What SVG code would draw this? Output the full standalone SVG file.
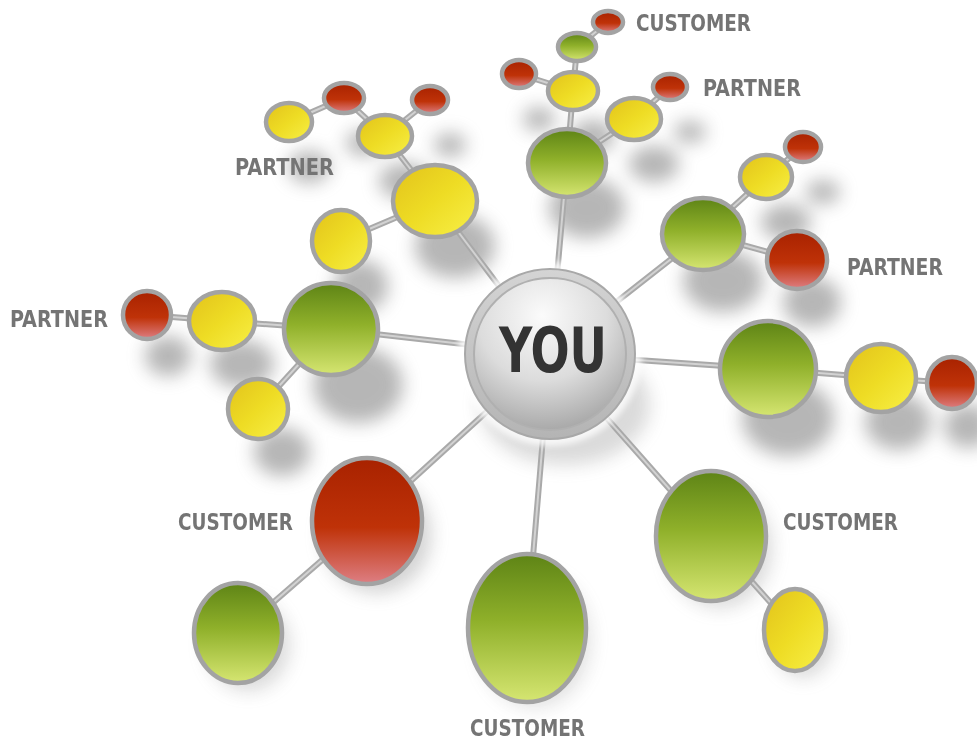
<svg xmlns="http://www.w3.org/2000/svg" width="977" height="743" viewBox="0 0 977 743">
<defs>
<linearGradient id="gGreen" x1="0" y1="0" x2="0" y2="1">
<stop offset="0" stop-color="#5e8416"/><stop offset="0.45" stop-color="#8fb02a"/><stop offset="1" stop-color="#d6e672"/>
</linearGradient>
<linearGradient id="gYellow" x1="0" y1="0" x2="1" y2="1">
<stop offset="0" stop-color="#e2c21c"/><stop offset="0.5" stop-color="#eedc24"/><stop offset="1" stop-color="#f8f048"/>
</linearGradient>
<linearGradient id="gRed" x1="0" y1="0" x2="0" y2="1">
<stop offset="0" stop-color="#a82200"/><stop offset="0.55" stop-color="#bf3208"/><stop offset="1" stop-color="#de7f84"/>
</linearGradient>
<radialGradient id="gYou" cx="0.45" cy="0.25" r="0.85">
<stop offset="0" stop-color="#fbfbfb"/><stop offset="0.5" stop-color="#dcdcdc"/><stop offset="1" stop-color="#9a9a9a"/>
</radialGradient>
<linearGradient id="gRing" x1="0" y1="0" x2="0" y2="1">
<stop offset="0" stop-color="#d4d4d4"/><stop offset="1" stop-color="#b4b4b4"/>
</linearGradient>
<filter id="blur" x="-50%" y="-50%" width="200%" height="200%"><feGaussianBlur stdDeviation="9"/></filter>
<filter id="blurS" x="-50%" y="-50%" width="200%" height="200%"><feGaussianBlur stdDeviation="3"/></filter>
</defs>
<style>
.node ellipse{stroke:#a3a3a3;stroke-width:4.5}
.green ellipse{fill:url(#gGreen)}
.yellow ellipse{fill:url(#gYellow)}
.red ellipse{fill:url(#gRed)}
.conn line{stroke:#a9a9a9;stroke-width:6;stroke-linecap:round}
.hl line{stroke:#d2d2d2;stroke-width:2}
.lbl{font-family:"DejaVu Sans Condensed","DejaVu Sans",sans-serif;font-weight:bold;font-size:23px;fill:#747474}
.sh ellipse{fill:#7a7a7a}
</style>
<rect width="977" height="743" fill="#ffffff"/>
<g id="shadows" class="sh" filter="url(#blur)" opacity="0.55">
<ellipse cx="565" cy="405" rx="85" ry="60" opacity="0.5"/>
<ellipse cx="587" cy="208" rx="38" ry="30"/>
<ellipse cx="593" cy="136" rx="22" ry="16"/>
<ellipse cx="654" cy="164" rx="25" ry="18"/>
<ellipse cx="690" cy="132" rx="16" ry="11"/>
<ellipse cx="539" cy="119" rx="16" ry="12"/>
<ellipse cx="455" cy="246" rx="40" ry="32"/>
<ellipse cx="361" cy="286" rx="27" ry="26"/>
<ellipse cx="405" cy="181" rx="26" ry="18"/>
<ellipse cx="450" cy="145" rx="16" ry="12"/>
<ellipse cx="364" cy="143" rx="18" ry="13"/>
<ellipse cx="309" cy="167" rx="21" ry="16"/>
<ellipse cx="358" cy="385" rx="45" ry="38"/>
<ellipse cx="242" cy="364" rx="32" ry="24"/>
<ellipse cx="168" cy="356" rx="23" ry="20"/>
<ellipse cx="282" cy="452" rx="28" ry="24"/>
<ellipse cx="723" cy="281" rx="40" ry="31"/>
<ellipse cx="786" cy="222" rx="25" ry="18"/>
<ellipse cx="823" cy="192" rx="17" ry="12"/>
<ellipse cx="812" cy="302" rx="29" ry="25"/>
<ellipse cx="788" cy="418" rx="46" ry="38"/>
<ellipse cx="898" cy="422" rx="33" ry="28"/>
<ellipse cx="968" cy="426" rx="24" ry="22"/>
<ellipse cx="377" cy="535" rx="54" ry="58" opacity="0.6"/>
<ellipse cx="248" cy="645" rx="42" ry="46" opacity="0.5"/>
<ellipse cx="535" cy="640" rx="56" ry="68" opacity="0.4"/>
<ellipse cx="720" cy="548" rx="52" ry="60" opacity="0.5"/>
<ellipse cx="803" cy="640" rx="30" ry="38" opacity="0.5"/>
</g>
<g id="connectors">
<g class="conn">
<line x1="550" y1="354" x2="567" y2="163"/>
<line x1="567" y1="163" x2="573" y2="91"/>
<line x1="573" y1="91" x2="577" y2="47"/>
<line x1="577" y1="47" x2="608" y2="22"/>
<line x1="573" y1="91" x2="519" y2="74"/>
<line x1="567" y1="163" x2="634" y2="119"/>
<line x1="634" y1="119" x2="670" y2="87"/>
<line x1="550" y1="354" x2="435" y2="201"/>
<line x1="435" y1="201" x2="341" y2="241"/>
<line x1="435" y1="201" x2="385" y2="136"/>
<line x1="385" y1="136" x2="344" y2="98"/>
<line x1="385" y1="136" x2="430" y2="100"/>
<line x1="344" y1="98" x2="289" y2="122"/>
<line x1="550" y1="354" x2="331" y2="329"/>
<line x1="331" y1="329" x2="222" y2="321"/>
<line x1="222" y1="321" x2="147" y2="315"/>
<line x1="331" y1="329" x2="258" y2="409"/>
<line x1="550" y1="354" x2="703" y2="234"/>
<line x1="703" y1="234" x2="766" y2="177"/>
<line x1="766" y1="177" x2="803" y2="147"/>
<line x1="703" y1="234" x2="797" y2="260"/>
<line x1="550" y1="354" x2="768" y2="369"/>
<line x1="768" y1="369" x2="881" y2="378"/>
<line x1="881" y1="378" x2="952" y2="383"/>
<line x1="550" y1="354" x2="367" y2="521"/>
<line x1="367" y1="521" x2="238" y2="633"/>
<line x1="550" y1="354" x2="527" y2="628"/>
<line x1="550" y1="354" x2="711" y2="536"/>
<line x1="711" y1="536" x2="795" y2="630"/>
</g>
<g class="hl">
<line x1="550" y1="354" x2="567" y2="163"/>
<line x1="567" y1="163" x2="573" y2="91"/>
<line x1="573" y1="91" x2="577" y2="47"/>
<line x1="577" y1="47" x2="608" y2="22"/>
<line x1="573" y1="91" x2="519" y2="74"/>
<line x1="567" y1="163" x2="634" y2="119"/>
<line x1="634" y1="119" x2="670" y2="87"/>
<line x1="550" y1="354" x2="435" y2="201"/>
<line x1="435" y1="201" x2="341" y2="241"/>
<line x1="435" y1="201" x2="385" y2="136"/>
<line x1="385" y1="136" x2="344" y2="98"/>
<line x1="385" y1="136" x2="430" y2="100"/>
<line x1="344" y1="98" x2="289" y2="122"/>
<line x1="550" y1="354" x2="331" y2="329"/>
<line x1="331" y1="329" x2="222" y2="321"/>
<line x1="222" y1="321" x2="147" y2="315"/>
<line x1="331" y1="329" x2="258" y2="409"/>
<line x1="550" y1="354" x2="703" y2="234"/>
<line x1="703" y1="234" x2="766" y2="177"/>
<line x1="766" y1="177" x2="803" y2="147"/>
<line x1="703" y1="234" x2="797" y2="260"/>
<line x1="550" y1="354" x2="768" y2="369"/>
<line x1="768" y1="369" x2="881" y2="378"/>
<line x1="881" y1="378" x2="952" y2="383"/>
<line x1="550" y1="354" x2="367" y2="521"/>
<line x1="367" y1="521" x2="238" y2="633"/>
<line x1="550" y1="354" x2="527" y2="628"/>
<line x1="550" y1="354" x2="711" y2="536"/>
<line x1="711" y1="536" x2="795" y2="630"/>
</g>
</g>
<g id="n-top-green" class="node green"><ellipse cx="567" cy="163" rx="39" ry="34"/></g>
<g id="n-top-yellow" class="node yellow"><ellipse cx="573" cy="91" rx="25" ry="19"/></g>
<g id="n-top-smallgreen" class="node green"><ellipse cx="577" cy="47" rx="19" ry="14"/></g>
<g id="n-top-red" class="node red"><ellipse cx="608" cy="22" rx="15" ry="11"/></g>
<g id="n-top-red-left" class="node red"><ellipse cx="519" cy="74" rx="17" ry="14"/></g>
<g id="n-top-yellow-right" class="node yellow"><ellipse cx="634" cy="119" rx="27" ry="21"/></g>
<g id="n-top-red-right" class="node red"><ellipse cx="670" cy="87" rx="17" ry="13"/></g>
<g id="n-tl-yellow-big" class="node yellow"><ellipse cx="435" cy="201" rx="42" ry="36"/></g>
<g id="n-tl-yellow-low" class="node yellow"><ellipse cx="341" cy="241" rx="29" ry="31"/></g>
<g id="n-tl-yellow-mid" class="node yellow"><ellipse cx="385" cy="136" rx="27" ry="21"/></g>
<g id="n-tl-red-left" class="node red"><ellipse cx="344" cy="98" rx="20" ry="15"/></g>
<g id="n-tl-red-right" class="node red"><ellipse cx="430" cy="100" rx="18" ry="14"/></g>
<g id="n-tl-yellow-left" class="node yellow"><ellipse cx="289" cy="122" rx="23" ry="19"/></g>
<g id="n-l-green" class="node green"><ellipse cx="331" cy="329" rx="47" ry="46"/></g>
<g id="n-l-yellow" class="node yellow"><ellipse cx="222" cy="321" rx="33" ry="29"/></g>
<g id="n-l-red" class="node red"><ellipse cx="147" cy="315" rx="24" ry="24"/></g>
<g id="n-l-yellow-low" class="node yellow"><ellipse cx="258" cy="409" rx="30" ry="30"/></g>
<g id="n-ru-green" class="node green"><ellipse cx="703" cy="234" rx="41" ry="36"/></g>
<g id="n-ru-yellow" class="node yellow"><ellipse cx="766" cy="177" rx="26" ry="22"/></g>
<g id="n-ru-red-small" class="node red"><ellipse cx="803" cy="147" rx="18" ry="15"/></g>
<g id="n-ru-red" class="node red"><ellipse cx="797" cy="260" rx="30" ry="29"/></g>
<g id="n-r-green" class="node green"><ellipse cx="768" cy="369" rx="48" ry="48"/></g>
<g id="n-r-yellow" class="node yellow"><ellipse cx="881" cy="378" rx="35" ry="34"/></g>
<g id="n-r-red" class="node red"><ellipse cx="952" cy="383" rx="25" ry="26"/></g>
<g id="n-bl-red" class="node red"><ellipse cx="367" cy="521" rx="55" ry="63"/></g>
<g id="n-bl-green" class="node green"><ellipse cx="238" cy="633" rx="44" ry="50"/></g>
<g id="n-b-green" class="node green"><ellipse cx="527" cy="628" rx="59" ry="74"/></g>
<g id="n-br-green" class="node green"><ellipse cx="711" cy="536" rx="55" ry="65"/></g>
<g id="n-br-yellow" class="node yellow"><ellipse cx="795" cy="630" rx="31" ry="41"/></g>
<g id="n-you">
<circle cx="550" cy="354" r="92" fill="#ffffff" opacity="0.8" filter="url(#blurS)"/>
<circle cx="550" cy="354" r="85" fill="url(#gRing)" stroke="#a8a8a8" stroke-width="2"/>
<circle cx="550" cy="354" r="76" fill="url(#gYou)" stroke="#b0b0b0" stroke-width="2"/>
<text x="499" y="372" textLength="108" lengthAdjust="spacingAndGlyphs" font-family="'DejaVu Sans Condensed','DejaVu Sans',sans-serif" font-weight="bold" font-size="62" fill="#333333">YOU</text>
</g>
<g id="labels">
<text class="lbl" x="636" y="31" textLength="115" lengthAdjust="spacingAndGlyphs">CUSTOMER</text>
<text class="lbl" x="703" y="96" textLength="98" lengthAdjust="spacingAndGlyphs">PARTNER</text>
<text class="lbl" x="235" y="175" textLength="99" lengthAdjust="spacingAndGlyphs">PARTNER</text>
<text class="lbl" x="10" y="327" textLength="98" lengthAdjust="spacingAndGlyphs">PARTNER</text>
<text class="lbl" x="847" y="275" textLength="96" lengthAdjust="spacingAndGlyphs">PARTNER</text>
<text class="lbl" x="178" y="530" textLength="115" lengthAdjust="spacingAndGlyphs">CUSTOMER</text>
<text class="lbl" x="783" y="530" textLength="115" lengthAdjust="spacingAndGlyphs">CUSTOMER</text>
<text class="lbl" x="470" y="736" font-size="22" textLength="115" lengthAdjust="spacingAndGlyphs">CUSTOMER</text>
</g>
</svg>
